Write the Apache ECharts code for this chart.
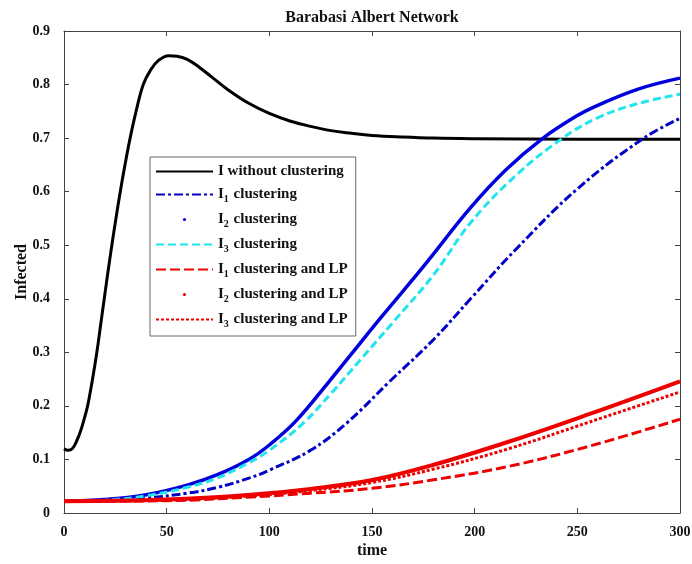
<!DOCTYPE html>
<html><head><meta charset="utf-8">
<script src="https://cdn.jsdelivr.net/npm/echarts@6/dist/echarts.min.js"></script>
<style>html,body{margin:0;padding:0;background:#fff}#c{width:692px;height:564px}</style>
</head><body><div id="c"></div>
<script>
// ---- data ----
const seriesNames = ['I without clustering','I1 clustering','I2 clustering','I3 clustering',
  'I1 clustering and LP','I2 clustering and LP','I3 clustering and LP'];
const xTicks = [0,50,100,150,200,250,300];
const yTicks = [0,0.1,0.2,0.3,0.4,0.5,0.6,0.7,0.8,0.9];

const tNoClust = [0,2,4,6,8,10,11.5,13.9,16,17.8,19.6,21.4,23.3,25.3,27.4,29.7,32.2,35.1,38.6,42,46,51,55,60,66,72,80,90,100,110,120,130,140,150,165,180,200,250,300];
const iNoClust = [0.12,0.117,0.12,0.133,0.152,0.178,0.2,0.25,0.3,0.35,0.4,0.45,0.5,0.55,0.6,0.65,0.7,0.75,0.8,0.826,0.845,0.854,0.853,0.847,0.832,0.814,0.79,0.765,0.746,0.732,0.722,0.714,0.709,0.705,0.702,0.7,0.699,0.698,0.698];

const tI1 = [0,20,40,60,75,90.8,100,120,137.7,158.7,180,198,220,250,282,300];
const iI1 = [0.022,0.023,0.028,0.037,0.048,0.066,0.08,0.117,0.168,0.246,0.324,0.4,0.492,0.605,0.699,0.737];

const tI2 = [0,20,40,60,75,90,100,113,129,140,155,175,198,215,233,250,261,280,300];
const iI2 = [0.022,0.025,0.034,0.052,0.072,0.1,0.127,0.172,0.245,0.297,0.368,0.46,0.57,0.64,0.699,0.742,0.763,0.792,0.812];

const tI3 = [0,20,40,60,75,90,100,116.6,130,145,160,180,198,220,242.5,260,280,300];
const iI3 = [0.022,0.024,0.032,0.048,0.066,0.094,0.117,0.168,0.223,0.289,0.355,0.445,0.542,0.63,0.699,0.738,0.765,0.782];

const tLP = [0,50,91,120,150,180,216.5,256,300];
const iI1LP = [0.022,0.023,0.03,0.037,0.046,0.062,0.087,0.125,0.175];
const iI2LP = [0.022,0.025,0.034,0.045,0.0615,0.09,0.133,0.185,0.246];
const iI3LP = [0.022,0.024,0.032,0.042,0.057,0.082,0.12,0.17,0.226];

// ---- chart ----
const FONT = "'Liberation Serif','Times New Roman',serif";
const pairs = (t, v) => t.map((x, i) => [x, v[i]]);

function mkLine(name, t, v, color, width, type) {
  return {
    name, type: 'line', data: pairs(t, v), symbol: 'none', showSymbol: false,
    smooth: 0.4, silent: true, animation: false,
    lineStyle: { color, width, type }, itemStyle: { color }
  };
}

const series = [
  mkLine(seriesNames[0], tNoClust, iNoClust, '#000000', 3, 'solid'),
  mkLine(seriesNames[1], tI1, iI1, '#0000c8', 3, [9, 3, 3, 3]),
  mkLine(seriesNames[2], tI2, iI2, '#0000dd', 3.5, 'solid'),
  mkLine(seriesNames[3], tI3, iI3, '#22e4ee', 3, [8, 4]),
  mkLine(seriesNames[4], tLP, iI1LP, '#ee0000', 3, [10, 4]),
  mkLine(seriesNames[5], tLP, iI2LP, '#ee0000', 4, 'solid'),
  mkLine(seriesNames[6], tLP, iI3LP, '#ee0000', 3, [3, 2])
];

function legendFmt(name) {
  const m = name.match(/^I(\d)(.*)$/);
  if (!m) return '{m|' + name + '}';
  return '{m|I}{s|' + m[1] + '}{m|' + m[2] + '}';
}

const dotNames = [seriesNames[2], seriesNames[5]];
const legendData = seriesNames.map(n => dotNames.includes(n)
  ? { name: n, lineStyle: { opacity: 0 } }
  : { name: n, itemStyle: { opacity: 0 } });

const axisLineStyle = { color: '#444', width: 1 };
const tickLabel = { fontFamily: FONT, fontWeight: 'bold', fontSize: 14, color: '#111' };

const option = {
  animation: false,
  backgroundColor: '#fff',
  title: {
    text: 'Barabasi Albert Network', left: 372, top: 10, padding: 0, textAlign: 'center',
    textStyle: { fontFamily: FONT, fontWeight: 'bold', fontSize: 16, color: '#111' }
  },
  grid: { left: 64, right: 12, top: 31, bottom: 51, containLabel: false, outerBoundsMode: 'none' },
  legend: {
    orient: 'vertical', left: 150, top: 157, itemWidth: 57, itemHeight: 4, itemGap: 8,
    padding: [7, 8, 7, 5], borderColor: '#666', borderWidth: 1, backgroundColor: '#fff',
    selectedMode: false, data: legendData, formatter: legendFmt,
    textStyle: {
      rich: {
        m: { fontFamily: FONT, fontWeight: 'bold', fontSize: 15, color: '#111' },
        s: { fontFamily: FONT, fontWeight: 'bold', fontSize: 10, color: '#111', padding: [9, 1, 0, 0] }
      }
    }
  },
  xAxis: [
    {
      type: 'value', min: 0, max: 300, interval: 50, position: 'bottom',
      name: 'time', nameLocation: 'middle', nameGap: 30, nameMoveOverlap: false,
      nameTextStyle: { fontFamily: FONT, fontWeight: 'bold', fontSize: 16, color: '#111' },
      axisLine: { show: true, onZero: false, lineStyle: axisLineStyle },
      axisTick: { show: true, inside: true, length: 5, lineStyle: axisLineStyle },
      axisLabel: Object.assign({ margin: 12, formatter: v => String(v) }, tickLabel),
      splitLine: { show: false }
    },
    {
      type: 'value', min: 0, max: 300, interval: 50, position: 'top',
      axisLine: { show: true, onZero: false, lineStyle: axisLineStyle },
      axisTick: { show: true, inside: true, length: 5, lineStyle: axisLineStyle },
      axisLabel: { show: false }, splitLine: { show: false }
    }
  ],
  yAxis: [
    {
      type: 'value', min: 0, max: 0.9, interval: 0.1, position: 'left',
      name: 'Infected', nameLocation: 'middle', nameGap: 34, nameRotate: 90, nameMoveOverlap: false,
      nameTextStyle: { fontFamily: FONT, fontWeight: 'bold', fontSize: 16, color: '#111' },
      axisLine: { show: true, onZero: false, lineStyle: axisLineStyle },
      axisTick: { show: true, inside: true, length: 5, lineStyle: axisLineStyle },
      axisLabel: Object.assign({ margin: 14, formatter: v => (v === 0 ? '0' : v.toFixed(1)) }, tickLabel),
      splitLine: { show: false }
    },
    {
      type: 'value', min: 0, max: 0.9, interval: 0.1, position: 'right',
      axisLine: { show: true, onZero: false, lineStyle: axisLineStyle },
      axisTick: { show: true, inside: true, length: 5, lineStyle: axisLineStyle },
      axisLabel: { show: false }, splitLine: { show: false }
    }
  ],
  series
};

const chart = echarts.init(document.getElementById('c'), null, { renderer: 'canvas' });
chart.setOption(option);
</script>
</body></html>
